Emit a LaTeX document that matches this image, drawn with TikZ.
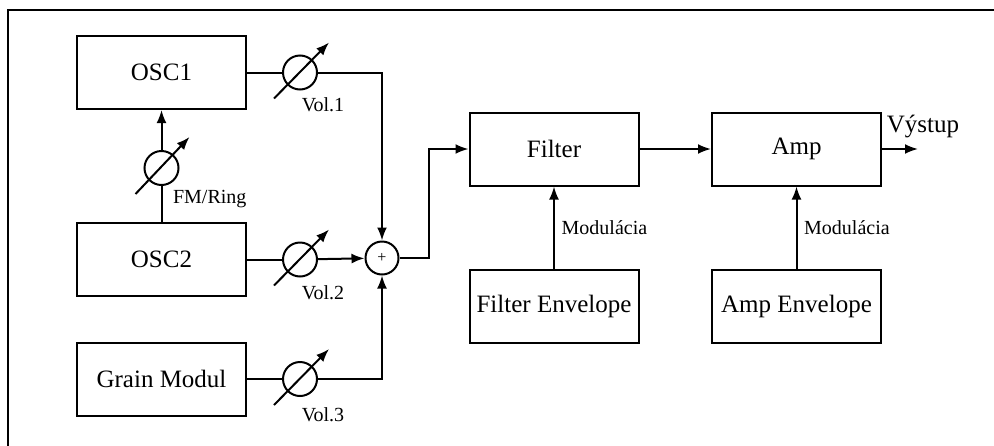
\documentclass[tikz,border=0pt]{standalone}
\usepackage{fontspec}
\setmainfont{Liberation Serif}
\usetikzlibrary{arrows.meta}
\tikzset{
  block/.style={draw,line width=1pt,minimum width=84.5pt,minimum height=36.5pt,font=\fontsize{12.5}{14}\selectfont},
  pot/.style={draw,circle,line width=1pt,minimum size=17pt,inner sep=0pt},
  lbl/.style={font=\fontsize{10}{12}\selectfont},
  sig/.style={line width=1pt},
  >={Latex[length=6.5pt,width=5pt]}
}
\begin{document}
\begin{tikzpicture}[x=0.5pt,y=-0.5pt]
\useasboundingbox (0,0) rectangle (994,445);
% outer frame, cut off at right and bottom
\begin{scope}
\clip (0,0) rectangle (994,445);
\draw[line width=1pt] (1010,9.5) -- (7.5,9.5) -- (7.5,470);
\end{scope}
% sound sources
\node[block] (osc1) at (161.5,72.5) {OSC1};
\node[block] (osc2) at (161.5,259.5) {OSC2};
\node[block] (grain) at (161.5,379) {Grain Modul};
% volume controls
\foreach \n/\y/\d in {1/72.5/32,2/259.5/33,3/379/36} {
  \node[pot] (v\n) at (300,\y) {};
  \draw[sig,->] ([shift={(-26,26)}]v\n.center) -- ([shift={(29,-30)}]v\n.center);
  \node[lbl] (vl\n) at (323,\y+\d) {Vol.\n};
}
% FM / ring modulation depth
\node[pot] (fm) at (161.5,168) {};
\draw[sig,->] ([shift={(-26,26)}]fm.center) -- ([shift={(28,-31)}]fm.center);
\node[lbl,anchor=west] (fml) at (166,199) {FM/Ring};
% mixer
\node[pot,minimum size=16.5pt] (sum) at (382,258) {\footnotesize +};
% filter and amp section
\node[block] (filter) at (554,149) {Filter};
\node[block] (amp) at (796.5,149) {Amp};
\node[block] (fenv) at (554,306.5) {Filter Envelope};
\node[block] (aenv) at (796.5,306.5) {Amp Envelope};
% signal flow
\draw[sig] (osc1) -- (v1);
\draw[sig] (osc2) -- (v2);
\draw[sig] (grain) -- (v3);
\draw[sig,->] (v1) -| (sum);
\draw[sig,->] (v2) -- (sum);
\draw[sig,->] (v3) -| (sum);
\draw[sig] (osc2) -- (fm);
\draw[sig,->] (fm) -- (osc1);
\draw[sig,->] (sum.east) -- ++(29,0) |- (filter.west);
\draw[sig,->] (filter) -- (amp);
\draw[sig,->] (fenv) -- node[lbl,right] (fmod) {Modulácia} (filter);
\draw[sig,->] (aenv) -- node[lbl,right] (amod) {Modulácia} (amp);
\coordinate (out) at (918,149);
\draw[sig,->] (amp) -- (out);
\node[font=\fontsize{12.5}{14}\selectfont] (vystup) at (923,127) {Výstup};
\end{tikzpicture}
\end{document}
